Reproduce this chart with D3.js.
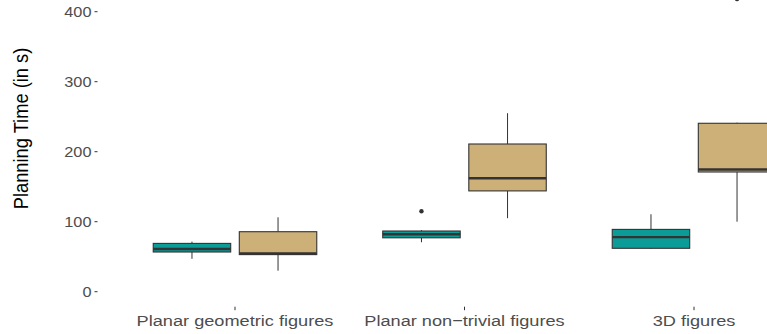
<!DOCTYPE html>
<html>
<head>
<meta charset="utf-8">
<script src="https://cdn.jsdelivr.net/npm/d3@7"></script>
<style>
  body { margin: 0; background: #fff; }
  svg { display: block; font-family: "Liberation Sans", Arial, sans-serif; }
</style>
</head>
<body>
<div id="chart"></div>
<script>
var width = 767, height = 334;

// categories on the x axis
const categories = ["Planar geometric figures", "Planar non\u2212trivial figures", "3D figures"];
const groups = ["A", "B"];
const groupColors = ["#0C9C98", "#CDB077"];
const yTicks = [0, 100, 200, 300, 400];

// box statistics per group, one entry per category
const lowA    = [47, 70.6, 61];
const q1A     = [56.7, 77, 62];
const medA    = [61, 82, 78];
const q3A     = [69, 86.7, 89];
const highA   = [71.5, 88, 110.6];
const outA    = [[], [115], []];

const lowB    = [30, 105, 100];
const q1B     = [53, 144, 171];
const medB    = [54.5, 162, 174.5];
const q3B     = [85.7, 211, 240.6];
const highB   = [106.3, 255, 241.5];
const outB    = [[], [], [418]];

function build(low, q1, med, q3, high, out, g) {
  return categories.map(function(c, i) {
    return {cat: c, group: g, low: low[i], q1: q1[i], med: med[i], q3: q3[i], high: high[i], out: out[i]};
  });
}
const boxes = build(lowA, q1A, medA, q3A, highA, outA, 0)
  .concat(build(lowB, q1B, medB, q3B, highB, outB, 1));

const svg = d3.select("#chart").append("svg")
    .attr("width", width)
    .attr("height", height);

const y = d3.scaleLinear().domain([0, 400]).range([291.7, 11.7]);
const x = d3.scalePoint().domain(categories).range([97.3, 831.7]).padding(0.6);
const step = x.step();
const boxW = 0.3375 * step;
const dodge = d3.scalePoint().domain(groups).range([-0.1875 * step, 0.1875 * step]);

const panelLeft = 97.5, panelBottom = 306.7;

// y axis ticks + labels (text in the picture is stretched sideways)
const yAxis = svg.append("g");
yAxis.selectAll("line")
  .data(yTicks)
  .join("line")
    .attr("x1", panelLeft - 3).attr("x2", panelLeft)
    .attr("y1", d => y(d)).attr("y2", d => y(d))
    .attr("stroke", "#333").attr("stroke-width", 1);
yAxis.selectAll("text")
  .data(yTicks)
  .join("text")
    .attr("transform", d => "translate(" + (panelLeft - 6) + "," + y(d) + ") scale(1.14,1)")
    .attr("dy", "0.35em")
    .attr("text-anchor", "end")
    .attr("font-size", 14.3)
    .attr("fill", "#4D4D4D")
    .text(d => d);

// x axis ticks + labels
const xAxis = svg.append("g");
xAxis.selectAll("line")
  .data(categories)
  .join("line")
    .attr("x1", d => x(d)).attr("x2", d => x(d))
    .attr("y1", panelBottom).attr("y2", panelBottom + 3.5)
    .attr("stroke", "#333").attr("stroke-width", 1);
xAxis.selectAll("text")
  .data(categories)
  .join("text")
    .attr("transform", d => "translate(" + x(d) + ",325.7) scale(1.18,1)")
    .attr("text-anchor", "middle")
    .attr("font-size", 15.4)
    .attr("fill", "#4D4D4D")
    .text(d => d);

// axis title
svg.append("text")
  .attr("transform", "translate(27.5,128.5) scale(1.14,1) rotate(-90)")
  .attr("text-anchor", "middle")
  .attr("font-size", 18.3)
  .attr("fill", "#000")
  .text("Planning Time (in s)");

// boxes
const bx = svg.append("g").selectAll("g")
  .data(boxes)
  .join("g")
    .attr("transform", d => "translate(" + (x(d.cat) + dodge(groups[d.group])) + ",0)");

bx.append("line")
  .attr("x1", 0).attr("x2", 0)
  .attr("y1", d => y(d.high)).attr("y2", d => y(d.q3))
  .attr("stroke", "#333").attr("stroke-width", 1);
bx.append("line")
  .attr("x1", 0).attr("x2", 0)
  .attr("y1", d => y(d.q1)).attr("y2", d => y(d.low))
  .attr("stroke", "#333").attr("stroke-width", 1);
bx.append("rect")
  .attr("x", -boxW / 2)
  .attr("width", boxW)
  .attr("y", d => y(d.q3))
  .attr("height", d => y(d.q1) - y(d.q3))
  .attr("fill", d => groupColors[d.group])
  .attr("stroke", "#333")
  .attr("stroke-width", 1.1);
bx.append("line")
  .attr("x1", -boxW / 2).attr("x2", boxW / 2)
  .attr("y1", d => y(d.med)).attr("y2", d => y(d.med))
  .attr("stroke", "#333").attr("stroke-width", 2.4);
bx.selectAll("circle")
  .data(d => d.out)
  .join("circle")
    .attr("cx", 0)
    .attr("cy", d => y(d))
    .attr("r", 2.2)
    .attr("fill", "#333");
</script>
</body>
</html>
